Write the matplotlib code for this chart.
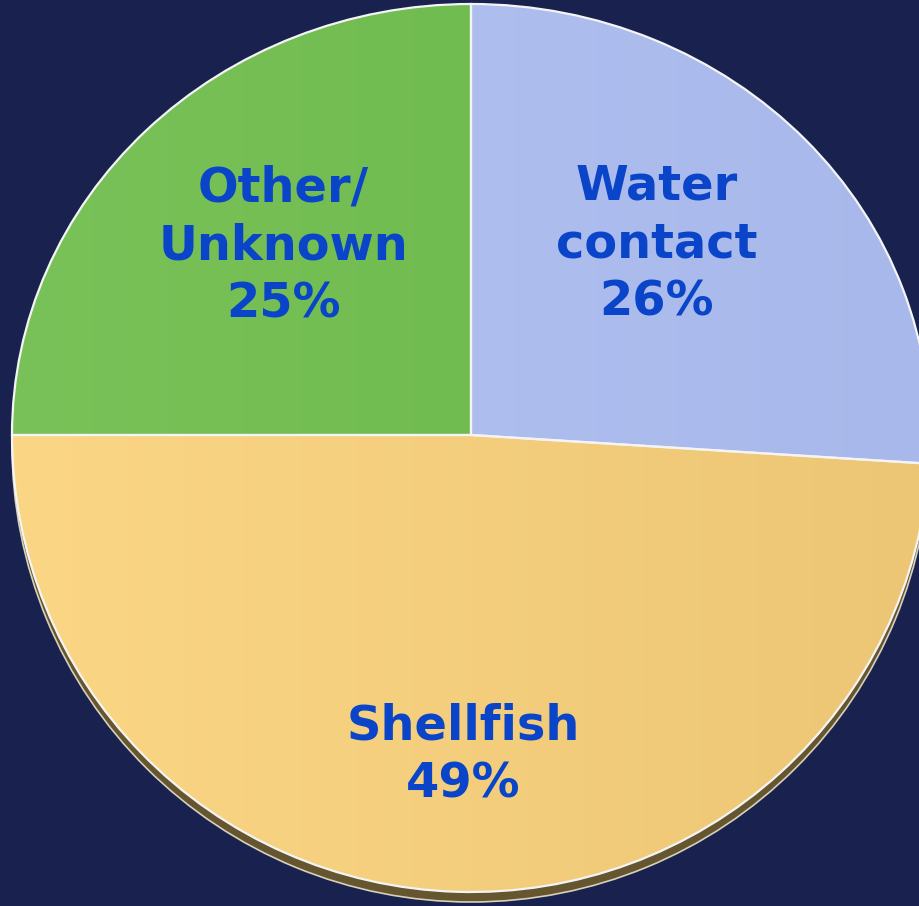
import numpy as np
import matplotlib
matplotlib.use('Agg')
import matplotlib.pyplot as plt
from matplotlib.colors import LinearSegmentedColormap

# slice data, clockwise from 12 o'clock
labels = ['Water\ncontact', 'Shellfish', 'Other/\nUnknown']
shares = [26, 49, 25]
# light / dark end of each slice's gradient
light_cols = ['#b1c3f3', '#fbd685', '#79c259']
dark_cols = ['#a8b8ea', '#ecc674', '#69b649']
label_dist = [0.6, 0.70, 0.6]
label_nudge = [4.5, 0.4, -2.0]   # degrees

bg = '#19224f'
txt_col = '#0a45c9'

W, H = 919, 906
cx, cy = 471, 435           # pie centre in pixels (from top-left)
rx, ry_top, ry_bot = 459.0, 431.0, 457.0   # slight perspective tilt

fig = plt.figure(figsize=(W / 100, H / 100), dpi=100, facecolor=bg)
# upper and lower halves get their own vertical scale
ax_top = fig.add_axes([0, (H - cy) / H, 1, cy / H])
ax_bot = fig.add_axes([0, 0, 1, (H - cy) / H])
ax_top.set_zorder(2)


def draw_pie(ax, ylim, ry, shadow):
    ax.set_facecolor(bg)
    if shadow:
        sh, _ = ax.pie([1], colors=['#665630'], radius=1.0, center=(0, -10 / ry),
                       wedgeprops=dict(linewidth=1.2, edgecolor='#d8d0b8'), frame=True)
        sh[0].set_clip_on(True)
    wedges, _ = ax.pie(shares, startangle=90, counterclock=False,
                       colors=light_cols, radius=1.0, frame=True,
                       wedgeprops=dict(linewidth=1.6, edgecolor='#f4f4f4'))
    grad = np.linspace(0, 1, 256).reshape(1, -1)
    for w, c0, c1 in zip(wedges, light_cols, dark_cols):
        w.set_clip_on(True)
        cm = LinearSegmentedColormap.from_list('g', [c0, c1])
        im = ax.imshow(grad, cmap=cm, extent=[-1, 1, -1, 1], aspect='auto',
                       zorder=w.get_zorder() + 0.1, interpolation='bilinear')
        im.set_clip_path(w)
        im.set_clip_box(ax.bbox)
        w.set_zorder(w.get_zorder() + 0.2)
        w.set_facecolor('none')
    ax.set_aspect('auto')
    ax.set_xlim(-cx / rx, (W - cx) / rx)
    ax.set_ylim(*ylim)
    ax.axis('off')
    return wedges


wt = draw_pie(ax_top, (0, cy / ry_top), ry_top, False)
wb = draw_pie(ax_bot, (-(H - cy) / ry_bot, 0), ry_bot, True)

for w, lab, s, d, nd in zip(wt, labels, shares, label_dist, label_nudge):
    ang = np.deg2rad((w.theta1 + w.theta2) / 2 + nd)
    ax = ax_top if np.sin(ang) > 0 else ax_bot
    ax.text(d * np.cos(ang), d * np.sin(ang), f'{lab}\n{s}%',
            ha='center', va='center', fontsize=34.5, fontweight='bold',
            color=txt_col, family='DejaVu Sans', linespacing=1.3, zorder=10)

fig.savefig('out.png', dpi=100, facecolor=bg)
